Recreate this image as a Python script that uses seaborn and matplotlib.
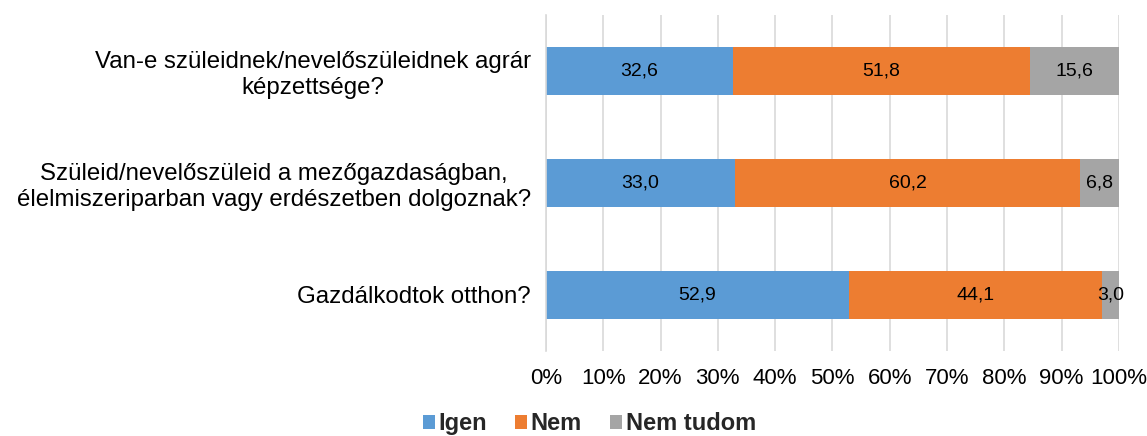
import matplotlib
matplotlib.use("Agg")
import matplotlib.pyplot as plt
import seaborn as sns
import numpy as np
import pandas as pd
from matplotlib.ticker import PercentFormatter
from matplotlib.patches import Patch

categories = [
    "Van-e szüleidnek/nevelőszüleidnek agrár\nképzettsége?",
    "Szüleid/nevelőszüleid a mezőgazdaságban,\nélelmiszeriparban vagy erdészetben dolgoznak?",
    "Gazdálkodtok otthon?",
]
series_names = ["Igen", "Nem", "Nem tudom"]
igen = [32.6, 33.0, 52.9]
nem = [51.8, 60.2, 44.1]
nem_tudom = [15.6, 6.8, 3.0]
tick_values = [0, 10, 20, 30, 40, 50, 60, 70, 80, 90, 100]
colors = ["#5b9bd5", "#ed7d31", "#a5a5a5"]

sns.set_theme(style="white")
plt.rcParams["font.family"] = ["Liberation Sans", "DejaVu Sans"]

fig = plt.figure(figsize=(11.47, 4.36), dpi=100)
ax = fig.add_axes([0.476, 0.195, 0.4995, 0.7706])

series = [igen, nem, nem_tudom]
left = np.zeros(len(categories))
for name, vals, col in zip(series_names, series, colors):
    df = pd.DataFrame({"cat": categories, "val": vals})
    sns.barplot(data=df, y="cat", x="val", orient="h", color=col, left=left,
                width=0.42, ax=ax, saturation=1, edgecolor="none", linewidth=0)
    cont = ax.containers[-1]
    labels = [f"{v:.1f}".replace(".", ",") for v in vals]
    ax.bar_label(cont, labels=labels, label_type="center", fontsize=14, color="#000000")
    left = left + np.array(vals)

ax.set_xlim(0, 100)
ax.set_ylim(2.5, -0.5)
ax.set_xticks(tick_values)
ax.xaxis.set_major_formatter(PercentFormatter(decimals=0))
ax.grid(axis="x", color="#d9d9d9", linewidth=1.2)
ax.set_axisbelow(True)
for s in ["top", "right", "bottom"]:
    ax.spines[s].set_visible(False)
ax.spines["left"].set_color("#d9d9d9")
ax.spines["left"].set_linewidth(1.2)
ax.set_xlabel("")
ax.set_ylabel("")
ax.tick_params(axis="x", labelsize=16, colors="#000000", length=0, pad=12)
ax.tick_params(axis="y", labelsize=17.3, colors="#000000", length=0, pad=11)
for t in ax.get_yticklabels():
    t.set_horizontalalignment("right")
    t.set_multialignment("center")
    t.set_linespacing(1.2)

handles = [Patch(facecolor=c, edgecolor="none") for c in colors]
leg = fig.legend(handles, series_names, loc="center", bbox_to_anchor=(0.514, 0.028),
                 ncol=3, frameon=False, prop={"weight": "bold", "size": 17},
                 handlelength=0.5, handleheight=0.5, handletextpad=0.15, columnspacing=1.2)

fig.savefig("out.png", dpi=100)
